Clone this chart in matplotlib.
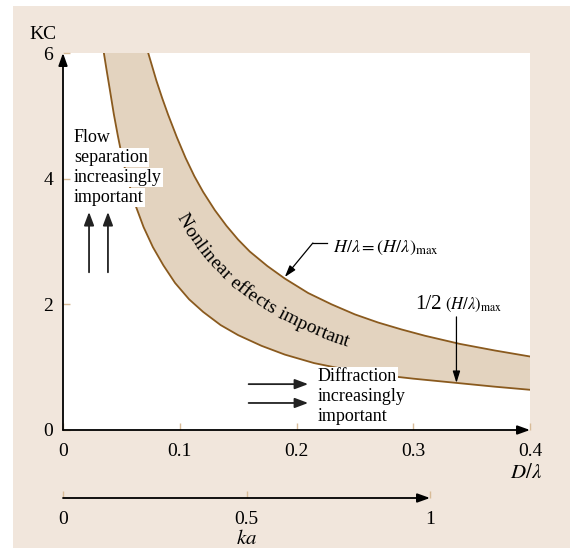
import numpy as np
import matplotlib
matplotlib.use('Agg')
import matplotlib.pyplot as plt
import matplotlib.transforms as mtransforms
from matplotlib.patches import Rectangle
from matplotlib.font_manager import FontProperties

plt.rcParams['font.family'] = ['Liberation Serif', 'DejaVu Serif']
plt.rcParams['mathtext.fontset'] = 'stix'

# upper boundary: H/lambda = (H/lambda)max
upper_d = [0.073, 0.0765, 0.080, 0.085, 0.090, 0.0975, 0.105, 0.1125, 0.12, 0.13,
           0.14, 0.15, 0.16, 0.175, 0.19, 0.21, 0.23, 0.25, 0.27, 0.29,
           0.31, 0.34, 0.37, 0.40]
upper_kc = [6.00, 5.78, 5.56, 5.28, 5.02, 4.66, 4.33, 4.04, 3.79, 3.50,
            3.25, 3.03, 2.84, 2.61, 2.41, 2.18, 2.00, 1.84, 1.71, 1.60,
            1.50, 1.37, 1.265, 1.17]
# lower boundary: 1/2 (H/lambda)max
lower_d = [0.035, 0.0375, 0.040, 0.0435, 0.047, 0.051, 0.056, 0.062, 0.069, 0.077,
           0.086, 0.096, 0.108, 0.12, 0.135, 0.15, 0.17, 0.19, 0.215, 0.24,
           0.27, 0.30, 0.34, 0.37, 0.40]
lower_kc = [6.00, 5.71, 5.43, 5.03, 4.68, 4.31, 3.95, 3.58, 3.23, 2.91,
            2.62, 2.34, 2.08, 1.88, 1.67, 1.51, 1.34, 1.20, 1.065, 0.97,
            0.88, 0.817, 0.744, 0.689, 0.64]

d_ticks = [0, 0.1, 0.2, 0.3, 0.4]
d_labels = ['0', '0.1', '0.2', '0.3', '0.4']
kc_ticks = [0, 2, 4, 6]
kc_labels = ['0', '2', '4', '6']
ka_ticks = [0, 0.5, 1]
ka_labels = ['0', '0.5', '1']

# where the curved label runs
band_text = 'Nonlinear effects important'
guide_d = np.array([0.106, 0.143, 0.182, 0.242])
guide_kc = np.array([3.25, 2.42, 1.91, 1.51])

bg = '#f1e6dc'
band = '#e3d3bf'
brown = '#8a5a1e'
tan = '#d8bc98'

W, H = 570, 550
fig = plt.figure(figsize=(W / 100, H / 100), dpi=100, facecolor='white')
fig.patches.append(Rectangle((13 / W, 2 / H), 557 / W, 542 / H,
                             transform=fig.transFigure, facecolor=bg,
                             edgecolor='none', zorder=-10))

ax = fig.add_axes([63 / W, 120 / H, 467 / W, 377 / H])
ax.set_facecolor('white')
ax.set_xlim(0, 0.4)
ax.set_ylim(0, 6)
for sp in ax.spines.values():
    sp.set_visible(False)
ax.set_xticks(d_ticks, d_labels)
ax.set_yticks(kc_ticks, kc_labels)
ax.tick_params(direction='in', length=5, width=1, colors=tan,
               labelcolor='black', labelsize=14)
ax.tick_params(axis='x', pad=9)
ax.tick_params(axis='y', pad=7)

# band
ax.fill(np.concatenate([upper_d, lower_d[::-1]]),
        np.concatenate([upper_kc, lower_kc[::-1]]),
        color=band, lw=0, zorder=1)
ax.plot(upper_d, upper_kc, color=brown, lw=1.3, zorder=2)
ax.plot(lower_d, lower_kc, color=brown, lw=1.3, zorder=2)

arr = dict(arrowstyle='-|>,head_length=0.75,head_width=0.27', color='black',
           lw=1.3, shrinkA=0, shrinkB=0, mutation_scale=10)
# axes arrows
ax.annotate('', xy=(0, 6), xytext=(0, 0), arrowprops=arr, annotation_clip=False, zorder=6)
ax.annotate('', xy=(0.4, 0), xytext=(0, 0), arrowprops=arr, annotation_clip=False, zorder=6)

ax.text(-0.0171, 6.30, 'KC', fontsize=14, ha='center', va='center')
ax.text(0.410, -0.70, r'$D/\lambda$', fontsize=15, ha='right', va='center')

# flow separation
small = dict(arrowstyle='-|>,head_length=0.8,head_width=0.3', color='#222222',
             lw=1.3, shrinkA=0, shrinkB=0, mutation_scale=10)
for xa in [0.0223, 0.0385]:
    ax.annotate('', xy=(xa, 3.47), xytext=(xa, 2.51), arrowprops=small, zorder=5)
box = dict(facecolor='white', edgecolor='none', pad=1)
for txt, yb in zip(['Flow', 'separation', 'increasingly', 'important'],
                   [4.584, 4.266, 3.947, 3.629]):
    ax.text(0.0094, yb, txt, fontsize=13, ha='left', va='baseline', bbox=box, zorder=3)

# diffraction
for ya in [0.73, 0.43]:
    ax.annotate('', xy=(0.21, ya), xytext=(0.159, ya), arrowprops=small, zorder=5)
for txt, yb in zip(['Diffraction', 'increasingly', 'important'], [0.78, 0.462, 0.143]):
    ax.text(0.218, yb, txt, fontsize=13, ha='left', va='baseline', bbox=box, zorder=3)

# H/lambda labels
thin = dict(arrowstyle='-|>,head_length=0.7,head_width=0.22', color='black',
            lw=0.9, shrinkA=0, shrinkB=0, mutation_scale=10)
ax.plot([0.214, 0.226], [2.976, 2.976], color='black', lw=0.9, zorder=5)
ax.annotate('', xy=(0.190, 2.435), xytext=(0.214, 2.976), arrowprops=thin, zorder=5)
ax.text(0.231, 2.90, r'$H/\lambda = (H/\lambda)_{\mathrm{max}}$', fontsize=13,
        ha='left', va='center', zorder=3)

ax.text(0.3015, 1.926, '1/2', fontsize=15, ha='left', va='baseline', zorder=3)
ax.text(0.327, 1.926, r'$(H/\lambda)_{\mathrm{max}}$', fontsize=12,
        ha='left', va='baseline', zorder=3)
ax.annotate('', xy=(0.337, 0.75), xytext=(0.337, 1.80), arrowprops=thin, zorder=5)

# ka axis
ax2 = fig.add_axes([63 / W, 52 / H, 367 / W, 0.0001])
ax2.set_facecolor('none')
for sp in ax2.spines.values():
    sp.set_visible(False)
ax2.set_xlim(0, 1)
ax2.set_ylim(0, 1)
ax2.set_yticks([])
ax2.set_xticks(ka_ticks, ka_labels)
ax2.tick_params(direction='in', length=5, width=1, colors=tan,
                labelcolor='black', labelsize=14, pad=9)
ax2.annotate('', xy=(1, 0), xytext=(0, 0), arrowprops=arr, annotation_clip=False)
ax2.set_xlabel('$ka$', fontsize=15, labelpad=2)

# curved label inside the band
fig.canvas.draw()
renderer = fig.canvas.get_renderer()
c = np.mean(guide_d * guide_kc)
gx = np.linspace(0.09, 0.32, 800)
pts = ax.transData.transform(np.column_stack([gx, c / gx]))
seg = np.hypot(np.diff(pts[:, 0]), np.diff(pts[:, 1]))
s = np.concatenate([[0], np.cumsum(seg)])
s0 = np.interp(0.102, gx, s)
prop = FontProperties(family='Liberation Serif', size=14)
ang = np.degrees(np.arctan2(np.gradient(pts[:, 1]), np.gradient(pts[:, 0])))
for i, ch in enumerate(band_text):
    if ch == ' ':
        continue
    w_full = renderer.get_text_width_height_descent(band_text[:i + 1], prop, ismath=False)[0]
    w_ch = renderer.get_text_width_height_descent(ch, prop, ismath=False)[0]
    p = s0 + w_full - w_ch / 2
    px = np.interp(p, s, pts[:, 0])
    py = np.interp(p, s, pts[:, 1])
    a = np.interp(p, s, ang)
    fig.text(px, py, ch, fontproperties=prop, rotation=a, rotation_mode='anchor',
             ha='center', va='center_baseline',
             transform=mtransforms.IdentityTransform(), zorder=4)

fig.savefig('out.png', dpi=100)
